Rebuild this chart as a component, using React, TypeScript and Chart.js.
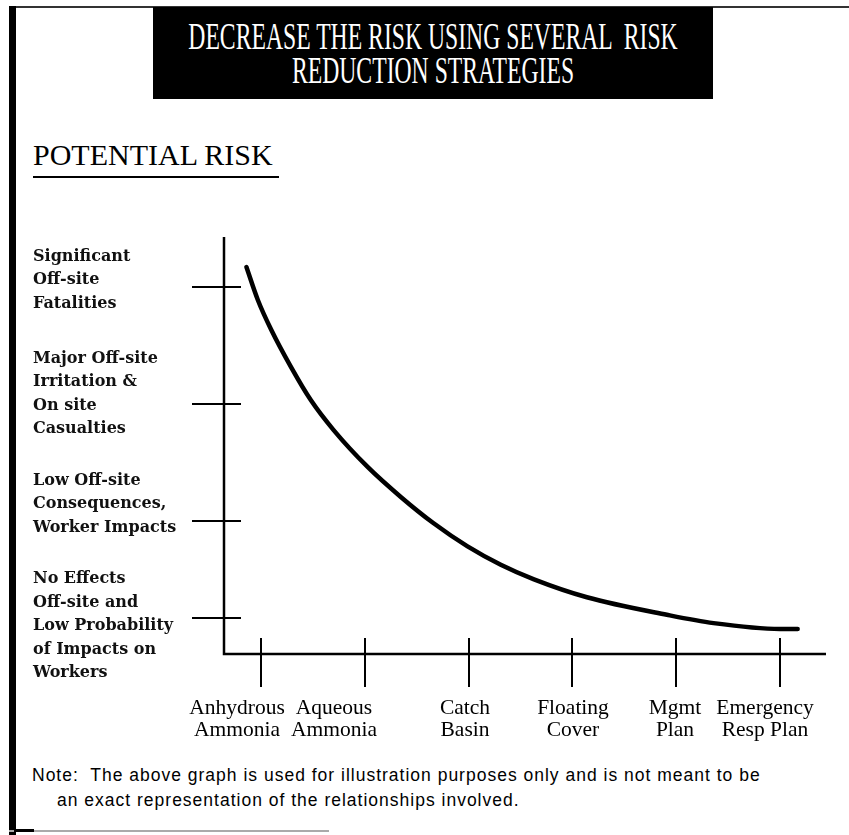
import React, { useEffect, useRef } from "react";
import { Chart, registerables } from "chart.js";

Chart.register(...registerables);

// ---- data ----
const TITLE_LINES = ["DECREASE THE RISK USING SEVERAL  RISK", "REDUCTION STRATEGIES"];
const SUBTITLE = "POTENTIAL RISK";
const NOTE_LINES = [
  "Note:  The above graph is used for illustration purposes only and is not meant to be",
  "an exact representation of the relationships involved.",
];

const CATEGORY_LABELS = [
  ["Anhydrous", "Ammonia"],
  ["Aqueous", "Ammonia"],
  ["Catch", "Basin"],
  ["Floating", "Cover"],
  ["Mgmt", "Plan"],
  ["Emergency", "Resp Plan"],
];
const CATEGORY_POSITIONS = [0, 1, 2, 3, 4, 5];

const RISK_LEVEL_LABELS = [
  ["Significant", "Off-site", "Fatalities"],
  ["Major Off-site", "Irritation &", "On site", "Casualties"],
  ["Low Off-site", "Consequences,", "Worker Impacts"],
  ["No Effects", "Off-site and", "Low Probability", "of Impacts on", "Workers"],
];
const RISK_LEVEL_VALUES = [8.8, 6.0, 3.2, 0.86];

// potential risk curve (x in category units, y on a 0-10 risk scale)
const CURVE_X = [-0.14, -0.03, 0.1, 0.29, 0.48, 0.7, 1.03, 1.35, 1.66, 1.99, 2.31, 2.63, 3.14, 3.91, 4.36, 5.0, 5.17];
const CURVE_Y = [9.28, 8.49, 7.77, 6.88, 6.09, 5.37, 4.48, 3.76, 3.14, 2.58, 2.14, 1.79, 1.36, 0.94, 0.74, 0.6, 0.6];

const X_MIN = -0.356;
const X_MAX = 5.443;
const Y_MIN = 0;
const Y_MAX = 10;

// label styling (label block nudges relative to their tick, as laid out in the original figure)
const Y_LABEL_NUDGE = [-7, -10, -17, 8];
const X_LABEL_NUDGE = [-24, -31, -4, 1, -1, -15];

const axisDecorPlugin = {
  id: "axisDecor",
  afterDraw(chart: any) {
    const { ctx, chartArea } = chart;
    const xs = chart.scales.x;
    const ys = chart.scales.y;
    ctx.save();
    ctx.strokeStyle = "#000";
    ctx.lineWidth = 2.5;
    ctx.lineCap = "butt";
    // axes
    ctx.beginPath();
    ctx.moveTo(chartArea.left, chartArea.top);
    ctx.lineTo(chartArea.left, chartArea.bottom);
    ctx.lineTo(chartArea.right, chartArea.bottom);
    ctx.stroke();
    // y ticks crossing the axis + labels
    ctx.lineWidth = 2;
    ctx.fillStyle = "#111";
    ctx.font = "bold 16px 'DejaVu Serif'";
    ctx.textAlign = "left";
    ctx.textBaseline = "middle";
    const ylh = 23.4;
    RISK_LEVEL_VALUES.forEach((v, i) => {
      const py = Math.round(ys.getPixelForValue(v));
      ctx.beginPath();
      ctx.moveTo(chartArea.left - 32, py);
      ctx.lineTo(chartArea.left + 17, py);
      ctx.stroke();
      const lines = RISK_LEVEL_LABELS[i];
      const c = py + Y_LABEL_NUDGE[i];
      lines.forEach((t, k) => {
        ctx.fillText(t, ys.left, c + (k - (lines.length - 1) / 2) * ylh);
      });
    });
    // x ticks crossing the axis + labels
    ctx.font = "21.5px 'Liberation Serif'";
    ctx.fillStyle = "#000";
    ctx.textAlign = "center";
    const xlh = 22.5;
    CATEGORY_POSITIONS.forEach((v, i) => {
      const px = Math.round(xs.getPixelForValue(v));
      ctx.beginPath();
      ctx.moveTo(px, chartArea.bottom - 16);
      ctx.lineTo(px, chartArea.bottom + 33);
      ctx.stroke();
      CATEGORY_LABELS[i].forEach((t, k) => {
        ctx.fillText(t, px + X_LABEL_NUDGE[i], chartArea.bottom + 54 + k * xlh);
      });
    });
    ctx.restore();
  },
};

function RiskChart() {
  const ref = useRef<HTMLCanvasElement | null>(null);
  useEffect(() => {
    if (!ref.current) return;
    const chart = new Chart(ref.current, {
      type: "line",
      data: {
        datasets: [
          {
            label: "Potential risk",
            data: CURVE_X.map((x, i) => ({ x, y: CURVE_Y[i] })),
            borderColor: "#000",
            borderWidth: 4.5,
            borderCapStyle: "round",
            pointRadius: 0,
            fill: false,
            cubicInterpolationMode: "monotone",
          },
        ],
      },
      options: {
        responsive: false,
        animation: false,
        events: [],
        layout: { padding: { left: 33, right: 23, top: 37, bottom: 0 } },
        plugins: {
          legend: { display: false },
          title: { display: false },
          tooltip: { enabled: false },
        },
        scales: {
          x: {
            type: "linear",
            min: X_MIN,
            max: X_MAX,
            afterBuildTicks: (s: any) => {
              s.ticks = CATEGORY_POSITIONS.map((v) => ({ value: v }));
            },
            afterFit: (s: any) => {
              s.height = 106;
              s.paddingLeft = 0;
              s.paddingRight = 0;
            },
            grid: { display: false },
            border: { display: false },
            ticks: { display: false },
          },
          y: {
            type: "linear",
            min: Y_MIN,
            max: Y_MAX,
            afterBuildTicks: (s: any) => {
              s.ticks = RISK_LEVEL_VALUES.map((v) => ({ value: v }));
            },
            afterFit: (s: any) => {
              s.width = 191;
              s.paddingTop = 0;
              s.paddingBottom = 0;
            },
            grid: { display: false },
            border: { display: false },
            ticks: { display: false },
          },
        },
      },
      plugins: [axisDecorPlugin],
    } as any);
    return () => chart.destroy();
  }, []);
  return (
    <canvas
      ref={ref}
      width={849}
      height={560}
      style={{ position: "absolute", left: 0, top: 200, width: 849, height: 560 }}
    />
  );
}

export default function App() {
  const titleLine = (text: string, top: number) => (
    <div
      style={{
        position: "absolute",
        left: "50%",
        top,
        whiteSpace: "pre",
        fontFamily: "'Liberation Serif', serif",
        fontSize: 37,
        lineHeight: "37px",
        color: "#fff",
        transform: "translateX(-50%) scaleX(0.64)",
        transformOrigin: "center",
      }}
    >
      {text}
    </div>
  );
  const noteStyle: any = {
    position: "absolute",
    fontFamily: "'Liberation Sans', sans-serif",
    fontSize: 17.5,
    letterSpacing: "1px",
    lineHeight: "20px",
    color: "#000",
    whiteSpace: "pre",
  };
  return (
    <div
      style={{
        position: "absolute",
        left: 0,
        top: 0,
        width: 849,
        height: 835,
        background: "#fff",
        overflow: "hidden",
      }}
    >
      {/* frame */}
      <div style={{ position: "absolute", left: 9, top: 6, width: 840, height: 2, background: "#333" }} />
      <div style={{ position: "absolute", left: 9, top: 6, width: 7, height: 829, background: "#000" }} />
      <div style={{ position: "absolute", left: 9, top: 830, width: 320, height: 2, background: "#aaa" }} />
      <div style={{ position: "absolute", left: 14, top: 829, width: 20, height: 3, background: "#000" }} />

      {/* title box */}
      <div style={{ position: "absolute", left: 153, top: 7, width: 560, height: 92, background: "#000" }}>
        {titleLine(TITLE_LINES[0], 11)}
        {titleLine(TITLE_LINES[1], 45)}
      </div>

      {/* subtitle */}
      <div
        style={{
          position: "absolute",
          left: 33,
          top: 140,
          fontFamily: "'Liberation Serif', serif",
          fontSize: 30,
          lineHeight: "30px",
          color: "#000",
          whiteSpace: "pre",
        }}
      >
        {SUBTITLE}
      </div>
      <div style={{ position: "absolute", left: 33, top: 176, width: 246, height: 2, background: "#000" }} />

      <RiskChart />

      {/* note */}
      <div style={{ ...noteStyle, left: 32, top: 765 }}>{NOTE_LINES[0]}</div>
      <div style={{ ...noteStyle, left: 57, top: 790 }}>{NOTE_LINES[1]}</div>
    </div>
  );
}
